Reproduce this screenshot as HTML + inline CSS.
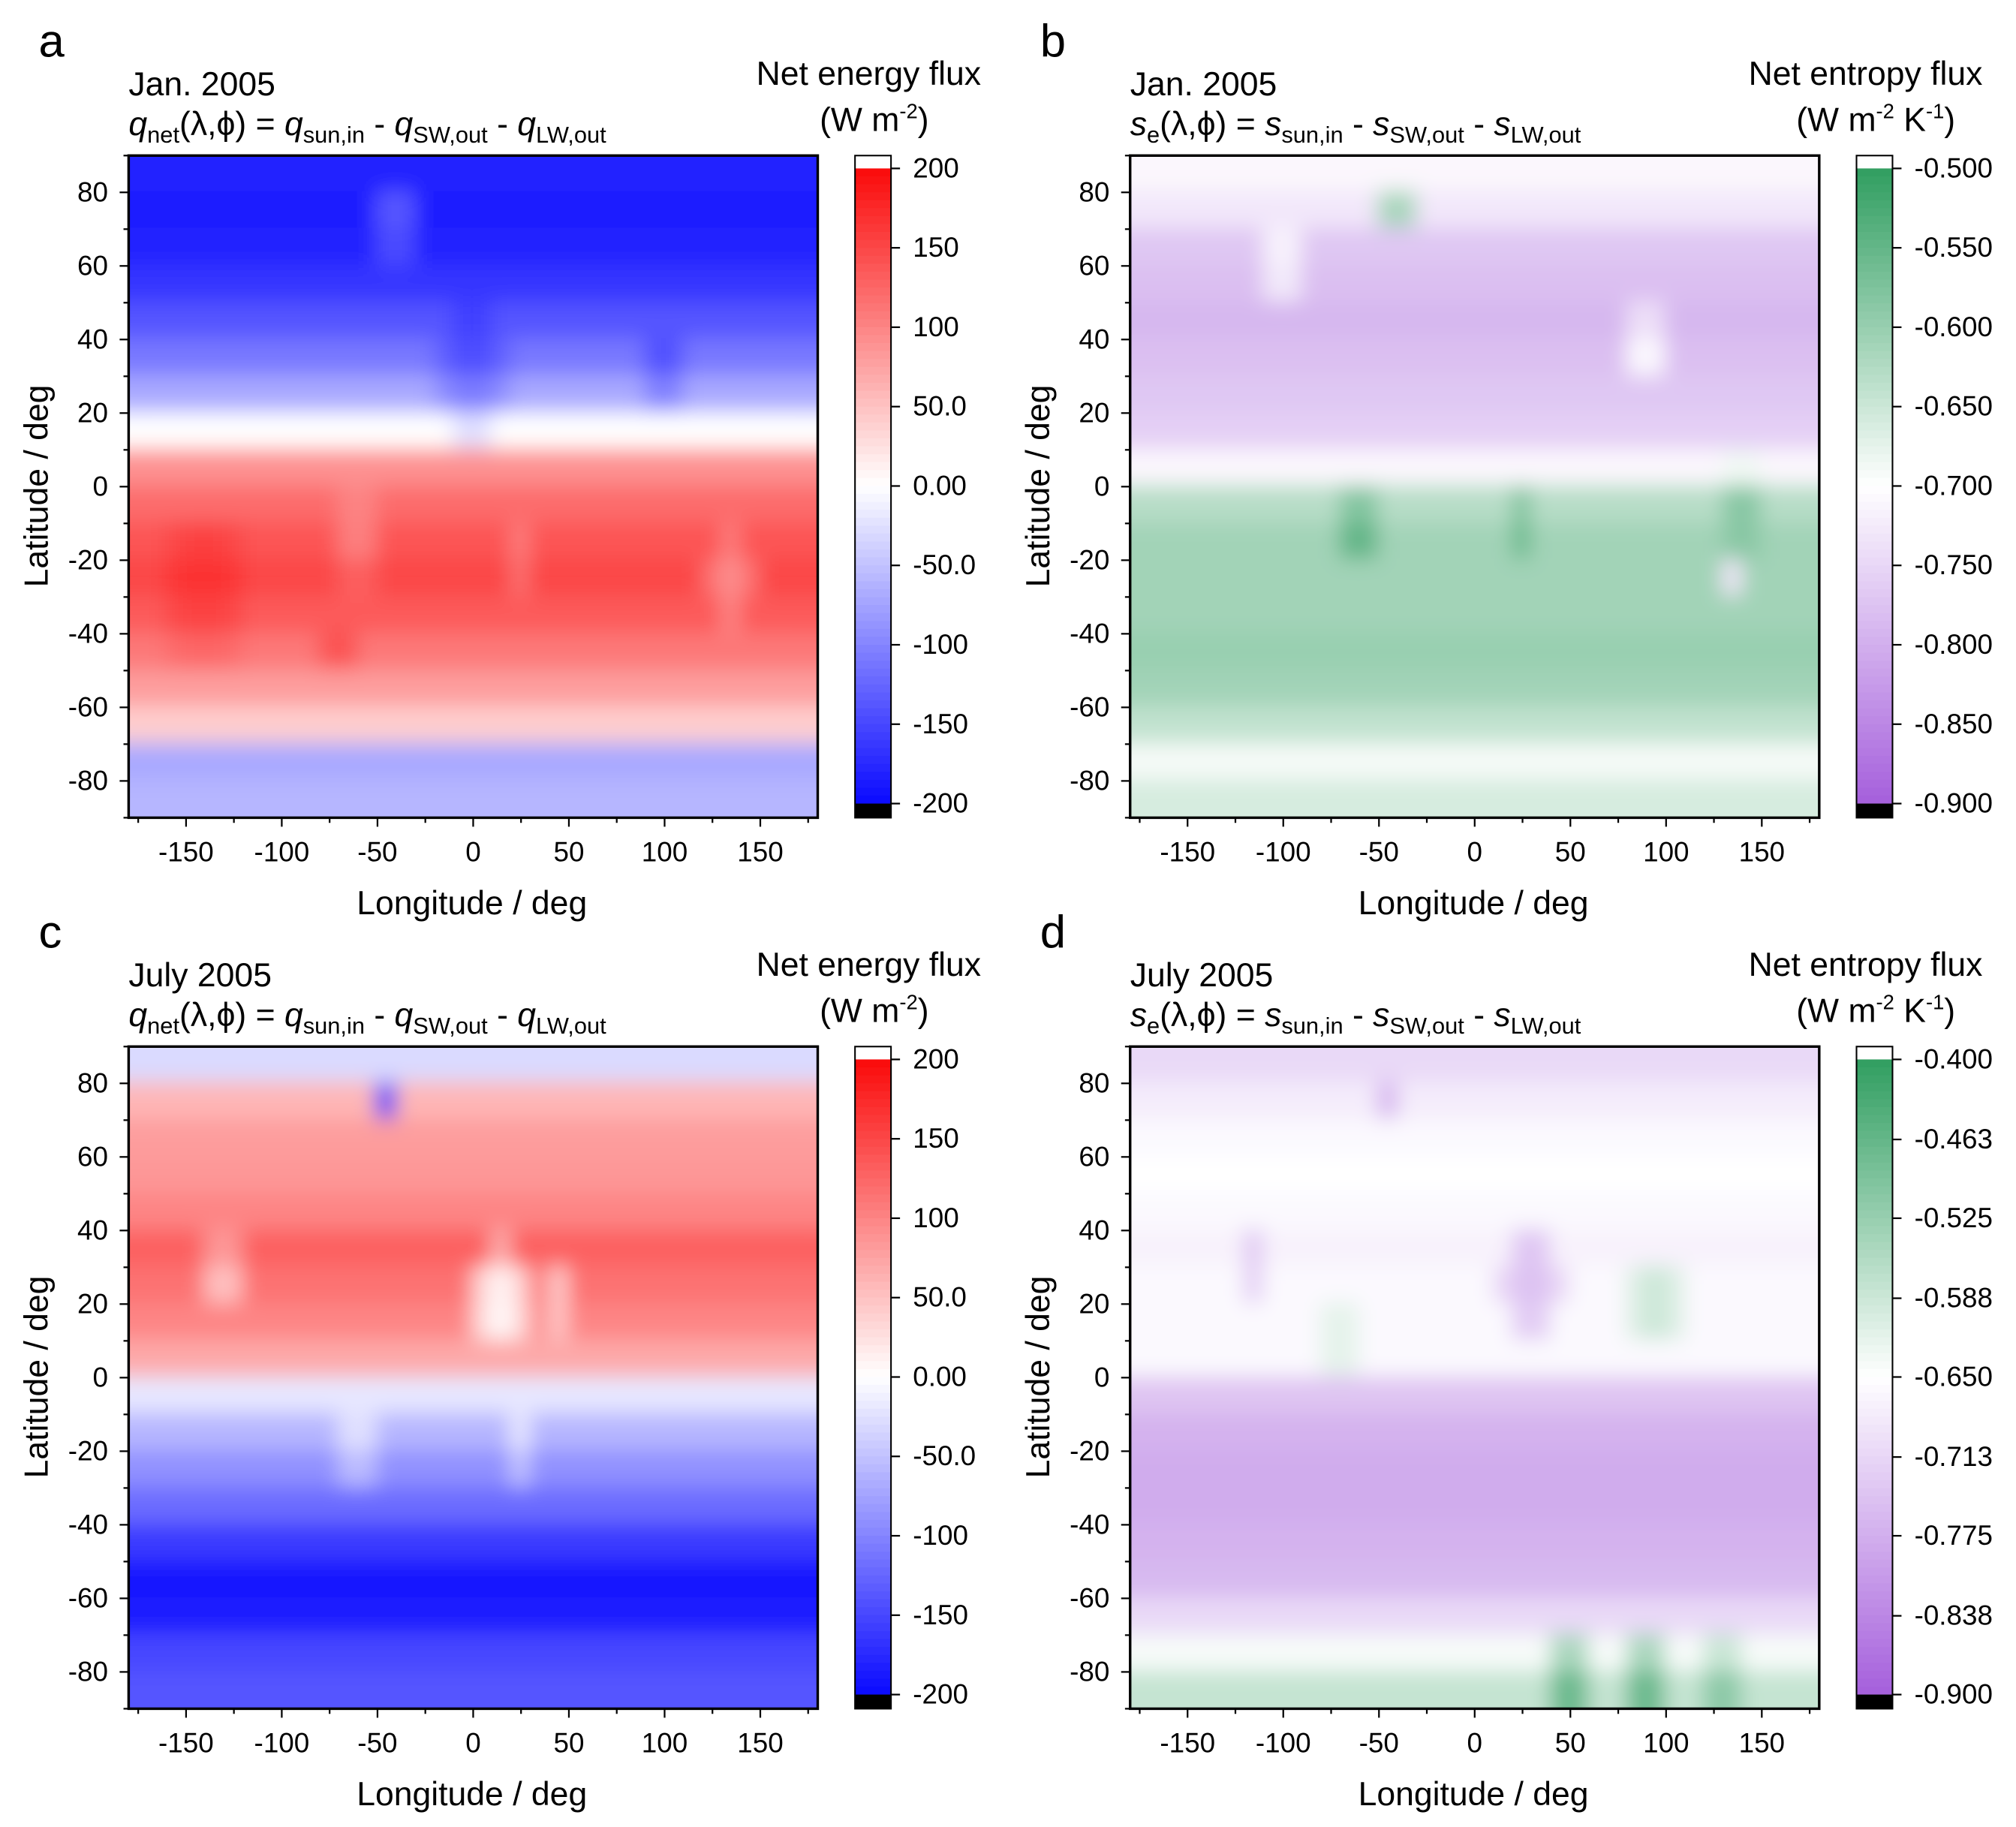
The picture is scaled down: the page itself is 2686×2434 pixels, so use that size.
<!DOCTYPE html>
<html><head><meta charset="utf-8"><style>
html,body{margin:0;padding:0;background:#fff;}
svg{display:block;font-family:"Liberation Sans",Arial,sans-serif;}
</style></head><body>
<svg id="fig" width="2686" height="2434" viewBox="0 0 1568 1421" xmlns="http://www.w3.org/2000/svg">
<defs>
<filter id="blur" x="-5%" y="-5%" width="110%" height="110%"><feGaussianBlur stdDeviation="8"/></filter>
</defs>
</svg>
<script>
// ---- data ----
const latBands = [85,75,65,55,45,35,25,15,5,-5,-15,-25,-35,-45,-55,-65,-75,-85];
const lonBands = [-175,-165,-155,-145,-135,-125,-115,-105,-95,-85,-75,-65,-55,-45,-35,-25,-15,-5,5,15,25,35,45,55,65,75,85,95,105,115,125,135,145,155,165,175];
const zonalEnergyJan = [-180,-185,-180,-165,-140,-110,-70,0,90,120,140,150,135,110,80,40,-70,-60];
const zonalEnergyJul = [-30,60,80,85,100,130,115,100,70,-20,-60,-90,-120,-160,-190,-185,-150,-140];
const zonalEntropyJan = [-0.71,-0.73,-0.77,-0.78,-0.79,-0.78,-0.77,-0.76,-0.71,-0.63,-0.61,-0.61,-0.61,-0.60,-0.61,-0.64,-0.69,-0.66];
const zonalEntropyJul = [-0.71,-0.68,-0.66,-0.65,-0.66,-0.67,-0.66,-0.66,-0.66,-0.74,-0.77,-0.78,-0.78,-0.77,-0.76,-0.71,-0.64,-0.58];
// features: [lon, lat, radius(deg), delta]
const featEnergyJan = [[-40,72,10,60],[-60,-15,12,-40],[25,-20,10,-40],[135,-25,12,-60],[0,28,18,-40],[100,30,12,-40],[-140,-30,25,20],[-70,-45,8,40]];
const featEnergyJul = [[-45,75,9,-230],[15,22,16,-110],[45,22,10,-80],[-130,28,10,-80],[-60,-20,10,50],[25,-20,10,50]];
const featEntropyJan = [[-40,75,9,0.14],[-60,-12,12,0.07],[25,-10,10,0.06],[135,-25,10,-0.12],[90,38,10,0.09],[140,-5,12,0.05],[-100,60,15,0.06]];
const featEntropyJul = [[-45,75,9,-0.09],[30,25,18,-0.09],[-115,30,10,-0.08],[95,20,15,0.08],[50,-82,14,0.12],[90,-82,14,0.12],[130,-82,12,0.08],[-70,10,10,0.06]];
const energyTicks = [200,150,100,50,0,-50,-100,-150,-200];
const energyTickLabels = ["200","150","100","50.0","0.00","-50.0","-100","-150","-200"];
const entropyJanTicks = [-0.5,-0.55,-0.6,-0.65,-0.7,-0.75,-0.8,-0.85,-0.9];
const entropyJulTicks = [-0.4,-0.463,-0.525,-0.588,-0.65,-0.713,-0.775,-0.838,-0.9];
const latTicks = [80,60,40,20,0,-20,-40,-60,-80];
const lonTicks = [-150,-100,-50,0,50,100,150];

const NS="http://www.w3.org/2000/svg";
const svg=document.getElementById('fig');
function el(tag,attrs,parent){const e=document.createElementNS(NS,tag);for(const k in attrs)e.setAttribute(k,attrs[k]);(parent||svg).appendChild(e);return e;}
function lerp(a,b,t){return a+(b-a)*t;}
function mix(c1,c2,t){return `rgb(${Math.round(lerp(c1[0],c2[0],t))},${Math.round(lerp(c1[1],c2[1],t))},${Math.round(lerp(c1[2],c2[2],t))})`;}
function energyColor(v,min,max){const mid=(min+max)/2;if(v>=mid){return mix([255,255,255],[250,10,10],Math.min(1,(v-mid)/(max-mid)));}return mix([255,255,255],[10,10,255],Math.min(1,(mid-v)/(mid-min)));}
function entropyColor(v,min,max){const mid=(min+max)/2;if(v>=mid){return mix([255,255,255],[48,158,96],Math.min(1,(v-mid)/(max-mid)));}return mix([255,255,255],[165,95,220],Math.min(1,(mid-v)/(mid-min)));}

const panels=[
 {id:'a',ox:0,oy:0,zonal:zonalEnergyJan,feat:featEnergyJan,min:-200,max:200,cmap:energyColor,title:'Jan. 2005',kind:'q',cb:'Net energy flux',ticks:energyTicks,labels:energyTickLabels},
 {id:'b',ox:779,oy:0,zonal:zonalEntropyJan,feat:featEntropyJan,min:-0.9,max:-0.5,cmap:entropyColor,title:'Jan. 2005',kind:'s',cb:'Net entropy flux',ticks:entropyJanTicks,labels:entropyJanTicks.map(v=>v.toFixed(3))},
 {id:'c',ox:0,oy:693,zonal:zonalEnergyJul,feat:featEnergyJul,min:-200,max:200,cmap:energyColor,title:'July 2005',kind:'q',cb:'Net energy flux',ticks:energyTicks,labels:energyTickLabels},
 {id:'d',ox:779,oy:693,zonal:zonalEntropyJul,feat:featEntropyJul,min:-0.9,max:-0.4,cmap:entropyColor,title:'July 2005',kind:'s',cb:'Net entropy flux',ticks:entropyJulTicks,labels:entropyJulTicks.map(v=>v.toFixed(3))}
];

panels.forEach(p=>{
 const g=el('g',{transform:`translate(${p.ox},${p.oy})`});
 
 
 const X0=100,X1=636,Y0=121,Y1=636;
 const xs=lon=>X0+(lon+180)/360*(X1-X0);
 const ys=lat=>Y0+(90-lat)/180*(Y1-Y0);
 const L=el('text',{x:30,y:44,'font-size':36},g);L.textContent=p.id;
 
 const T=el('text',{x:100,y:74,'font-size':26},g);T.textContent=p.title;
 
 const F=el('text',{x:100,y:105,'font-size':26},g);
 
 const sub='font-size="18" dy="6"';
 if(p.kind==='q'){
  F.innerHTML=`<tspan font-style="italic">q</tspan><tspan ${sub}>net</tspan><tspan dy="-6">(λ,ϕ) = </tspan><tspan font-style="italic">q</tspan><tspan ${sub}>sun,in</tspan><tspan dy="-6"> - </tspan><tspan font-style="italic">q</tspan><tspan ${sub}>SW,out</tspan><tspan dy="-6"> - </tspan><tspan font-style="italic">q</tspan><tspan ${sub}>LW,out</tspan>`;
 } else {
  F.innerHTML=`<tspan font-style="italic">s</tspan><tspan ${sub}>e</tspan><tspan dy="-6">(λ,ϕ) = </tspan><tspan font-style="italic">s</tspan><tspan ${sub}>sun,in</tspan><tspan dy="-6"> - </tspan><tspan font-style="italic">s</tspan><tspan ${sub}>SW,out</tspan><tspan dy="-6"> - </tspan><tspan font-style="italic">s</tspan><tspan ${sub}>LW,out</tspan>`;
 }
 const C=el('text',{x:763,y:66,'font-size':26,'text-anchor':'end'},g);C.textContent=p.cb;
 
 const U=el('text',{x:p.kind==='q'?680:680,y:102,'font-size':26,'text-anchor':'middle'},g);
 U.innerHTML=p.kind==='q'?'(W m<tspan font-size="16" dy="-10">-2</tspan><tspan dy="10">)</tspan>':'(W m<tspan font-size="16" dy="-10">-2</tspan><tspan dy="10"> K</tspan><tspan font-size="16" dy="-10">-1</tspan><tspan dy="10">)</tspan>';
 
 const cp=el('clipPath',{id:'clip'+p.id},g);el('rect',{x:X0,y:Y0,width:X1-X0,height:Y1-Y0},cp);
 const hm=el('g',{'clip-path':`url(#clip${p.id})`},g);
 
 const bg=el('g',{filter:'url(#blur)'},hm);
 latBands.forEach((lat,j)=>{
  lonBands.forEach(lon=>{
   let v=p.zonal[j];
   p.feat.forEach(f=>{const dx=lon-f[0],dy=lat-f[1];const d2=(dx*dx+dy*dy)/(f[2]*f[2]);if(d2<1)v+=f[3]*(1-d2*0.6);});
   const ext=(lat===85?20:0), extB=(lat===-85?20:0), extL=(lon===-175?20:0), extR=(lon===175?20:0);
   const r=el('rect',{x:xs(lon-5)-1-extL,y:ys(lat+5)-1-ext,width:xs(lon+5)-xs(lon-5)+2+extL+extR,height:ys(lat-5)-ys(lat+5)+2+ext+extB,fill:p.cmap(v,p.min,p.max)},bg);
   
   
  });
 });
 const fr=el('rect',{x:X0,y:Y0,width:X1-X0,height:Y1-Y0,fill:'none',stroke:'#000','stroke-width':2},g);
 
 for(let lat=-90;lat<=90;lat+=10){const y=ys(lat);const major=lat%20===0&&Math.abs(lat)<90;el('line',{x1:X0,x2:X0-(major?7:4),y1:y,y2:y,stroke:'#000','stroke-width':1.3},g);}
 latTicks.forEach(lat=>{const t=el('text',{x:84,y:ys(lat)+7,'font-size':21.5,'text-anchor':'end'},g);t.textContent=lat;
  });
 for(let lon=-175;lon<=175;lon+=25){const x=xs(lon);const major=lon%50===0;el('line',{x1:x,x2:x,y1:Y1,y2:Y1+(major?7:4),stroke:'#000','stroke-width':1.3},g);}
 lonTicks.forEach(lon=>{const t=el('text',{x:xs(lon),y:670,'font-size':21.5,'text-anchor':'middle'},g);t.textContent=lon;
  });
 const yl=el('text',{x:0,y:0,'font-size':26,'text-anchor':'middle',transform:`translate(37,378) rotate(-90)`},g);yl.textContent='Latitude / deg';
 
 const xl=el('text',{x:367,y:711,'font-size':26,'text-anchor':'middle'},g);xl.textContent='Longitude / deg';
 
 const CX=665,CW=28,CT=131,CB=625;
 const cbg=el('g',{},g);
 el('rect',{x:CX,y:121,width:CW,height:10,fill:'#fff'},cbg);
 const n=80;for(let i=0;i<n;i++){const v=p.max-(p.max-p.min)*(i+0.5)/n;el('rect',{x:CX,y:CT+(CB-CT)*i/n,width:CW,height:(CB-CT)/n+0.6,fill:p.cmap(v,p.min,p.max)},cbg);}
 el('rect',{x:CX,y:CB,width:CW,height:11,fill:'#000'},cbg);
 el('rect',{x:CX,y:121,width:CW,height:515,fill:'none',stroke:'#000','stroke-width':1.2},cbg);
 const cy=v=>CB-(v-p.min)/(p.max-p.min)*(CB-CT);
 p.ticks.forEach((v,i)=>{const y=cy(v);el('line',{x1:CX+CW,x2:CX+CW+7,y1:y,y2:y,stroke:'#000','stroke-width':1.3},cbg);
  const t=el('text',{x:710,y:y+7,'font-size':21.5},cbg);t.textContent=p.labels[i];
  });
});
</script>
</body></html>
